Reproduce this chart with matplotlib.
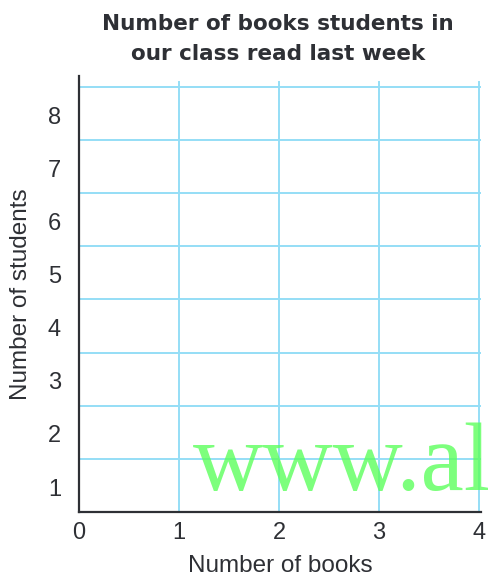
import matplotlib.pyplot as plt
import numpy as np

# axis values (the chart itself is an empty grid to fill in)
books = [0, 1, 2, 3, 4]
students = [1, 2, 3, 4, 5, 6, 7, 8]
title = "Number of books students in\nour class read last week"
xlabel = "Number of books"
ylabel = "Number of students"

grid_col = "#95def6"
ink = "#2e3035"
lab_font = "Liberation Sans"

fig = plt.figure(figsize=(4.89, 5.77), dpi=100)
ax = fig.add_axes([79 / 489, 65 / 577, 402 / 489, (512 - 76) / 577])

top = max(students)
ax.set_xlim(0, 4.02)
ax.set_ylim(0, top + 0.207)

# grid: horizontal lines on every student count, vertical lines on every book count
for y in range(1, top + 1):
    ax.axhline(y, color=grid_col, lw=1.4, zorder=1)
for x in books[1:]:
    ax.plot([x, x], [0, top + 0.1], color=grid_col, lw=1.4, zorder=1)

for s in ["top", "right"]:
    ax.spines[s].set_visible(False)
for s in ["left", "bottom"]:
    ax.spines[s].set_color(ink)
    ax.spines[s].set_linewidth(1.6)

ax.set_xticks(books)
ax.set_xticklabels([str(b) for b in books], family=lab_font)
ax.set_yticks(np.array(students) - 0.53)
ax.set_yticklabels([str(s) for s in students], family=lab_font)
ax.tick_params(length=0, labelsize=17, colors=ink)
ax.tick_params(axis="x", pad=7)
ax.tick_params(axis="y", pad=13)

ax.set_xlabel(xlabel, fontsize=17.5, color=ink, family=lab_font, labelpad=8)
ax.set_ylabel(ylabel, fontsize=17.5, color=ink, family=lab_font)
ax.yaxis.set_label_coords(-47 / 402, 0.5)

fig.text(278 / 489, 1 - 39 / 577, title, ha="center", va="center",
         fontsize=15.5, fontweight="bold", color=ink, linespacing=1.57)

# watermark
fig.text(193 / 489, 1 - 490 / 577, "www.al", fontsize=70,
         family="Liberation Serif", color="#5cff5c", alpha=0.8,
         ha="left", va="baseline")

fig.savefig("out.png", dpi=100)
